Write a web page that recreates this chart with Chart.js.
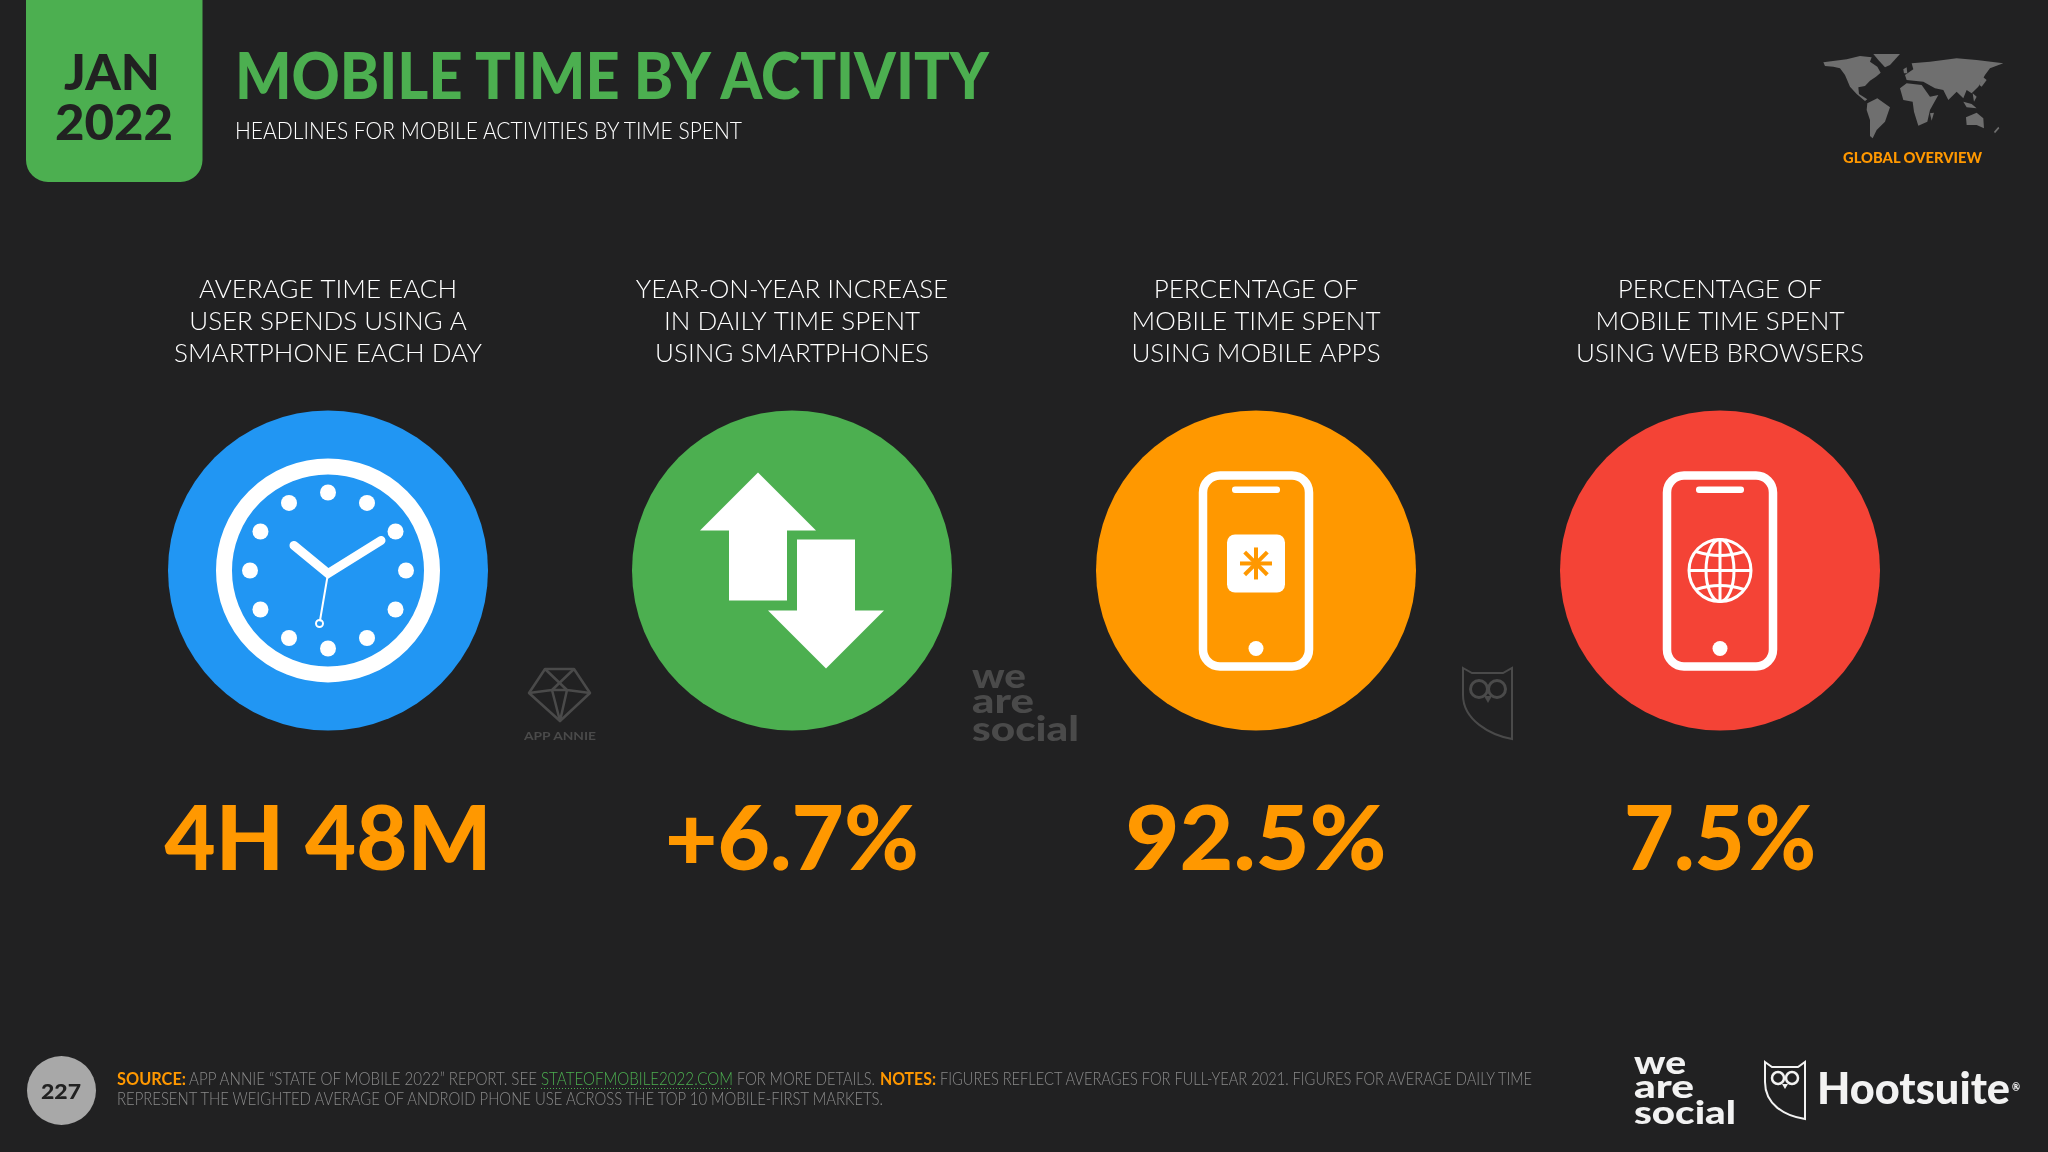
<!DOCTYPE html>
<html><head><meta charset="utf-8">
<script src="https://cdn.jsdelivr.net/npm/chart.js@4"></script>
<style>
html,body{margin:0;padding:0;background:#212122;width:2048px;height:1152px;overflow:hidden}
#stage{position:absolute;left:0;top:0;width:2048px;height:1152px}
#wrap{position:absolute;left:0;top:0;width:2048px;height:1152px}
.t{position:absolute;white-space:pre;line-height:1;font-family:Lato,sans-serif;transform-origin:0 0}
svg{position:absolute;left:0;top:0}
</style></head><body>
<div id="stage">
<svg id="deco" width="2048" height="1152" viewBox="0 0 2048 1152">
  <path d="M26 0H202.500V160a22 22 0 0 1-22 22H48a22 22 0 0 1-22-22Z" fill="#4caf50"/>
  <g transform="translate(1790 30) scale(.3333)" fill="#6f6f6f">
    <path d="M100 97 135 92 170 88 210 78 245 82 240 95 262 110 272 128 258 140 240 152 225 168 205 172 207 192 232 208 225 213 200 192 180 170 165 135 150 115 130 110 105 108Z"/>
    <path d="M250 72 330 72 300 105 285 112 265 90Z"/>
    <path d="M232 220 262 205 300 232 285 275 260 300 248 325 240 318 240 270 230 240Z"/>
    <path d="M330 175 350 160 395 165 420 200 445 195 420 240 412 275 385 287 372 245 368 215 340 210Z"/>
    <path d="M345 135 370 118 365 100 420 95 500 85 560 90 640 100 600 115 585 135 565 170 545 190 530 180 520 205 500 185 475 210 460 180 435 175 400 155 350 150Z"/>
    <path d="M528 262 560 248 580 265 582 295 560 285 530 285Z"/>
    <path d="M420 250 432 248 425 272Z"/>
    <path d="M340 118 350 112 352 130 342 130Z"/>
    <path d="M520 215 545 222 560 235 530 232Z"/>
    <path d="M548 190 560 200 552 215Z"/>
    <path d="M578 140 590 150 575 170 568 165Z"/>
    <path d="M612 305 625 290 628 295 615 310Z"/>
  </g>
  <g fill="none" stroke="#4a4a4a" stroke-width="2.500" stroke-linejoin="round">
    <path d="M529 693 545 669 574 669 590 693 560 721Z"/>
    <path d="M545 669 567 690M574 669 552 690M552 690 560 721 567 690 552 690M529 693 552 690M567 690 590 693"/>
  </g>
  <g fill="none" stroke="#4a4a4a" stroke-width="2">
    <path d="M1463 668 1472 673H1503L1512 668V739C1490 735 1463 720 1463 695Z"/>
    <circle cx="1479" cy="689" r="8.500" stroke-width="3"/><circle cx="1497" cy="689" r="8.500" stroke-width="3"/>
  </g>
  <path d="M1484 696H1492L1488 703Z" fill="#4a4a4a"/>
  <g fill="none" stroke="#f2f2f2" stroke-width="2">
    <path d="M1765 1062 1772 1067H1798L1805 1062V1119C1784 1116 1765 1104 1765 1082Z"/>
    <circle cx="1778" cy="1078" r="6" stroke-width="2.500"/><circle cx="1792" cy="1078" r="6" stroke-width="2.500"/>
  </g>
  <path d="M1782 1084H1788L1785 1089Z" fill="#f2f2f2"/>
  <circle cx="61.500" cy="1090.500" r="34.500" fill="#a8a8a8"/>
  <line x1="541" y1="1088.500" x2="733" y2="1088.500" stroke="#4caf50" stroke-dasharray="1 2"/>
</svg>
<div id="wrap"><canvas id="c" width="2048" height="1152"></canvas></div>
</div>
<script>
const categories = [
  ['AVERAGE TIME EACH','USER SPENDS USING A','SMARTPHONE EACH DAY'],
  ['YEAR-ON-YEAR INCREASE','IN DAILY TIME SPENT','USING SMARTPHONES'],
  ['PERCENTAGE OF','MOBILE TIME SPENT','USING MOBILE APPS'],
  ['PERCENTAGE OF','MOBILE TIME SPENT','USING WEB BROWSERS']
];
const headlineLabels = ['4H 48M','+6.7%','92.5%','7.5%'];
const circleRow = [0,0,0,0];
const circleColors = ['#2196f3','#4caf50','#ff9800','#f44336'];
const iconKinds = ['clock','arrows','app','web'];
const titleText = 'MOBILE TIME BY ACTIVITY';
const subtitleText = 'HEADLINES FOR MOBILE ACTIVITIES BY TIME SPENT';

/* real DOM text fitted to a measured cap height and width */
function put(str,x,capTop,capH,w,color,weight){
  const s=capH/.72, d=document.createElement('div');
  d.className='t'; d.textContent=str;
  d.style.cssText=`left:${x}px;top:${capTop-.167*s}px;font-size:${s}px;color:${color};font-weight:${weight}`;
  document.getElementById('stage').appendChild(d);
  if(w){const m=d.getBoundingClientRect().width; d.style.transform=`scaleX(${w/m})`;}
}
const G='#8a8a8a',O='#ff9800';
put('JAN',64,54,36,96,'#212121',900);
put('2022',54.500,104,36,118,'#212121',900);
put(titleText,234.500,54,46,754,'#4caf50',900);
put(subtitleText,235,123,17,507,'#ffffff',300);
put('GLOBAL OVERVIEW',1843,153,11,139,O,900);
put('APP ANNIE',524,732,8.500,72,'#4a4a4a',700);
put('SOURCE:',117,1074,12,69,O,700);
put('APP ANNIE \u201CSTATE OF MOBILE 2022\u201D REPORT. SEE',189,1074,12,348,G,300);
put('STATEOFMOBILE2022.COM',541,1074,12,192,'#4caf50',300);
put('FOR MORE DETAILS.',737,1074,12,138,G,300);
put('NOTES:',880,1074,12,56,O,700);
put('FIGURES REFLECT AVERAGES FOR FULL-YEAR 2021. FIGURES FOR AVERAGE DAILY TIME',940,1074,12,592,G,300);
put('REPRESENT THE WEIGHTED AVERAGE OF ANDROID PHONE USE ACROSS THE TOP 10 MOBILE-FIRST MARKETS.',117,1094,12,766,G,300);
put('227',40.500,1084,15,40,'#212121',900);
function lower(str,x,base,size,w,color){
  const d=document.createElement('div');d.className='t';d.textContent=str;
  d.style.cssText=`left:${x}px;top:${base-.887*size}px;font-size:${size}px;color:${color};font-weight:900`;
  document.getElementById('stage').appendChild(d);
  const m=d.getBoundingClientRect().width;d.style.transform=`scaleX(${w/m})`;
}
lower('we',1633.500,1074,32,52,'#f2f2f2');
lower('are',1633.500,1098,32,60,'#f2f2f2');
lower('social',1633.500,1124,32,102,'#f2f2f2');
lower('we',972,688,34,54,'#4a4a4a');
lower('are',972,713,34,62,'#4a4a4a');
lower('social',972,741,34,107,'#4a4a4a');
lower('Hootsuite',1817,1104,44,193,'#f2f2f2');
lower('\u00AE',2012,1092,12,8,'#f2f2f2');

function rr(c,x,y,w,h,r){c.beginPath();c.roundRect(x,y,w,h,r);}
function phone(c,x,y){
  c.strokeStyle='#fff';c.fillStyle='#fff';c.lineWidth=8.500;
  rr(c,x-53,y-95,106,191,17);c.stroke();
  rr(c,x-24,y-84,48,6.500,3);c.fill();
  c.beginPath();c.arc(x,y+78,7.500,0,7);c.fill();
}
const icons={
  clock(c,x,y){
    c.strokeStyle='#fff';c.fillStyle='#fff';c.lineCap='round';
    c.lineWidth=16;c.beginPath();c.arc(x,y,104,0,7);c.stroke();
    for(let i=0;i<12;i++){const a=i*Math.PI/6;c.beginPath();c.arc(x+78*Math.cos(a),y+78*Math.sin(a),8,0,7);c.fill();}
    c.lineWidth=9;c.beginPath();c.moveTo(x-34,y-25);c.lineTo(x,y+3);c.lineTo(x+53,y-30);c.stroke();
    c.lineWidth=2;c.beginPath();c.moveTo(x,y+3);c.lineTo(x-8,y+50);c.stroke();
    c.beginPath();c.arc(x-8.500,y+53,3.500,0,7);c.stroke();
  },
  arrows(c,x,y){
    c.fillStyle='#fff';
    c.beginPath();[[-34,-98],[24,-40],[-5,-40],[-5,30],[-63,30],[-63,-40],[-92,-40]].forEach((p,i)=>i?c.lineTo(x+p[0],y+p[1]):c.moveTo(x+p[0],y+p[1]));c.fill();
    c.beginPath();[[5,-31],[63,-31],[63,40],[92,40],[34,98],[-24,40],[5,40]].forEach((p,i)=>i?c.lineTo(x+p[0],y+p[1]):c.moveTo(x+p[0],y+p[1]));c.fill();
  },
  app(c,x,y,col){
    phone(c,x,y);c.fillStyle='#fff';rr(c,x-29,y-36,58,58,8);c.fill();
    c.strokeStyle=col;c.lineWidth=4;c.lineCap='butt';
    for(let i=0;i<4;i++){const a=i*Math.PI/4,r=16;c.beginPath();c.moveTo(x+r*Math.cos(a),y-7+r*Math.sin(a));c.lineTo(x-r*Math.cos(a),y-7-r*Math.sin(a));c.stroke();}
  },
  web(c,x,y){
    phone(c,x,y);c.strokeStyle='#fff';c.lineWidth=3;
    c.beginPath();c.arc(x,y,31,0,7);c.stroke();
    c.beginPath();c.ellipse(x,y,14,31,0,0,7);c.stroke();
    c.beginPath();c.moveTo(x,y-31);c.lineTo(x,y+31);c.moveTo(x-31,y);c.lineTo(x+31,y);c.stroke();
    c.beginPath();c.moveTo(x-24,y-19);c.quadraticCurveTo(x,y-11,x+24,y-19);c.moveTo(x-24,y+19);c.quadraticCurveTo(x,y+11,x+24,y+19);c.stroke();
  }
};
const tileDecor={id:'tileDecor',
  beforeDraw(ch){ch.ctx.letterSpacing='0px';},
  afterDatasetsDraw(ch){
    const c=ch.ctx;
    ch.getDatasetMeta(0).data.forEach((pt,i)=>{
      c.save();icons[iconKinds[i]](c,pt.x,pt.y,circleColors[i]);c.restore();
      c.save();c.font='900 90px Lato, sans-serif';c.fillStyle='#ff9800';c.textBaseline='alphabetic';c.textAlign='center';
      const target=[327,254,261,192][i], m=c.measureText(headlineLabels[i]).width;
      c.translate(pt.x,870);c.scale(target/m,1);c.fillText(headlineLabels[i],0,0);c.restore();
    });
  }};
new Chart(document.getElementById('c'),{
  type:'line',
  data:{labels:categories,datasets:[{data:circleRow,showLine:false,clip:false,pointRadius:160,pointHoverRadius:160,
    pointBackgroundColor:circleColors,pointBorderWidth:0}]},
  plugins:[tileDecor],
  options:{responsive:false,animation:false,events:[],devicePixelRatio:1,
    layout:{autoPadding:false,padding:{left:96,right:96,top:260,bottom:403}},
    plugins:{legend:{display:false},tooltip:{enabled:false},title:{display:false}},
    scales:{
      x:{type:'category',position:'top',offset:true,grid:{display:false,drawBorder:false},border:{display:false},
         afterFit(s){s.paddingLeft=0;s.paddingRight=0;},
         ticks:{color:'#ffffff',maxRotation:0,autoSkip:false,padding:14,font:{family:'Lato, sans-serif',weight:'300',size:26,lineHeight:1.23}}},
      y:{display:false,min:-1,max:1}
    }
  }
});
</script>
</body></html>
